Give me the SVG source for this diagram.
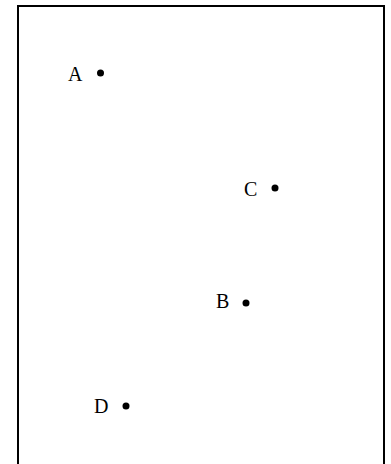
<svg xmlns="http://www.w3.org/2000/svg" width="391" height="464" viewBox="0 0 391 464">
<style>
.lbl{font-family:"Liberation Serif","Times New Roman",serif;font-size:20px;fill:#000}
.pt{fill:#000}
</style>
<rect x="0" y="0" width="391" height="464" fill="#fff"/>
<rect id="frame" x="18" y="6" width="366" height="470" fill="none" stroke="#000" stroke-width="2"/>
<g id="A"><text class="lbl" x="68" y="81">A</text><circle class="pt" cx="100.5" cy="73" r="3.5"/></g>
<g id="C"><text class="lbl" x="244" y="196">C</text><circle class="pt" cx="275" cy="188" r="3.5"/></g>
<g id="B"><text class="lbl" x="216" y="308">B</text><circle class="pt" cx="246" cy="303" r="3.5"/></g>
<g id="D"><text class="lbl" x="94" y="413">D</text><circle class="pt" cx="126" cy="406" r="3.5"/></g>
<g id="connectors"></g>
</svg>
